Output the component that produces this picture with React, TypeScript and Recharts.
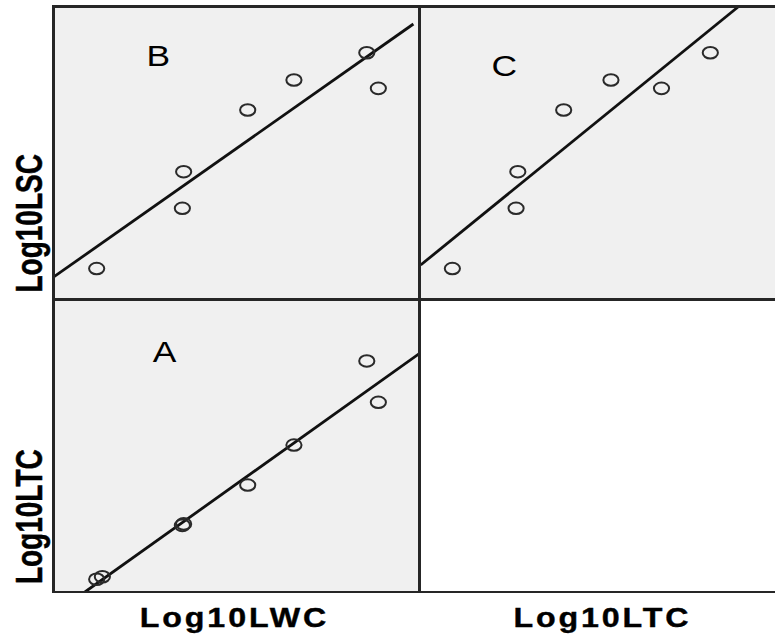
import React from 'react';
import { ScatterChart, Scatter, XAxis, YAxis, ReferenceLine } from 'recharts';

// ---- data (arbitrary log10 units) ----
const sampleIds = ['S1', 'S2', 'S3', 'S4', 'S5', 'S6', 'S7', 'S8'];
const log10LWC = [0.738, 0.769, 1.212, 1.205, 1.561, 1.813, 2.21, 2.273];
const log10LSC: (number | null)[] = [0.708, null, 1.369, 1.119, 1.79, 1.995, 2.181, 1.938];
const log10LTC = [1.087, 1.104, 1.465, 1.455, 1.73, 2.003, 2.577, 2.295];

// fitted (least-squares) line end points
const fitB = [{ x: 0.5, y: 0.647 }, { x: 2.464, y: 2.377 }];
const fitC = [{ x: 0.904, y: 0.732 }, { x: 2.737, y: 2.493 }];
const fitA = [{ x: 0.674, y: 1.0 }, { x: 2.5, y: 2.631 }];

const panelLetters = ['B', 'C', 'A'];
const rowLabels = ['Log10LSC', 'Log10LTC'];
const colLabels = ['Log10LWC', 'Log10LTC'];

const lwcDomain: [number, number] = [0.5, 2.5];
const lscDomain: [number, number] = [0.5, 2.5];
const ltcDomainX: [number, number] = [0.9, 3.02];
const ltcDomainY: [number, number] = [1.0, 3.0];

const dataB = sampleIds
  .map((id, i) => ({ id, x: log10LWC[i], y: log10LSC[i] }))
  .filter((d) => d.y !== null);
const dataC = sampleIds
  .map((id, i) => ({ id, x: log10LTC[i], y: log10LSC[i] }))
  .filter((d) => d.y !== null);
const dataA = sampleIds.map((id, i) => ({ id, x: log10LWC[i], y: log10LTC[i] }));

const PW = 367;
const PH = 293;

const Ring = (props: any) => {
  if (props.cx == null || props.cy == null) return <g />;
  return (
    <ellipse cx={props.cx} cy={props.cy} rx={7.6} ry={5.8} fill="none" stroke="#2a2a2a" strokeWidth={2} />
  );
};

function Panel(props: {
  data: any[];
  xDomain: [number, number];
  yDomain: [number, number];
  fit: { x: number; y: number }[];
  left: number;
  top: number;
}) {
  const { data, xDomain, yDomain, fit, left, top } = props;
  return (
    <div style={{ position: 'absolute', left, top, width: PW, height: PH, background: '#f0f0f0' }}>
      <ScatterChart width={PW} height={PH} margin={{ top: 0, right: 0, bottom: 0, left: 0 }}>
        <XAxis type="number" dataKey="x" domain={xDomain} hide allowDataOverflow />
        <YAxis type="number" dataKey="y" domain={yDomain} hide allowDataOverflow />
        <Scatter data={data} isAnimationActive={false} shape={Ring} />
        <ReferenceLine segment={fit} stroke="#111" strokeWidth={2.8} ifOverflow="visible" />
      </ScatterChart>
    </div>
  );
}

const lineColor = '#262626';

export default function App() {
  return (
    <div style={{ position: 'absolute', left: 0, top: 0, width: 775, height: 634, overflow: 'hidden', background: '#fff' }}>
      <Panel data={dataB} xDomain={lwcDomain} yDomain={lscDomain} fit={fitB} left={53} top={6} />
      <Panel data={dataC} xDomain={ltcDomainX} yDomain={lscDomain} fit={fitC} left={420} top={6} />
      <Panel data={dataA} xDomain={lwcDomain} yDomain={ltcDomainY} fit={fitA} left={53} top={299} />

      {/* frame lines */}
      <div style={{ position: 'absolute', left: 52, top: 5, width: 723, height: 2.5, background: lineColor }} />
      <div style={{ position: 'absolute', left: 52, top: 5, width: 3, height: 588, background: lineColor }} />
      <div style={{ position: 'absolute', left: 418, top: 5, width: 3, height: 588, background: lineColor }} />
      <div style={{ position: 'absolute', left: 52, top: 297.5, width: 723, height: 3, background: lineColor }} />
      <div style={{ position: 'absolute', left: 52, top: 590.5, width: 723, height: 2.5, background: lineColor }} />

      <svg width={775} height={634} style={{ position: 'absolute', left: 0, top: 0, pointerEvents: 'none' }}>
        <g fontFamily="'Liberation Sans', Arial, sans-serif" fill="#000">
          <text transform="translate(146.4,66) scale(1.18,1)" fontSize={30}>{panelLetters[0]}</text>
          <text transform="translate(491.5,75.5) scale(1.18,1)" fontSize={30}>{panelLetters[1]}</text>
          <text transform="translate(152.7,361.7) scale(1.18,1)" fontSize={30}>{panelLetters[2]}</text>

          <text transform="translate(41.7,223.3) scale(1.3,1) rotate(-90)" fontSize={28} fontWeight="bold" textAnchor="middle" stroke="#000" strokeWidth={0.4}>{rowLabels[0]}</text>
          <text transform="translate(41.7,516.7) scale(1.3,1) rotate(-90)" fontSize={28} fontWeight="bold" textAnchor="middle" stroke="#000" strokeWidth={0.4}>{rowLabels[1]}</text>

          <text transform="translate(234.4,626.7) scale(1.15,1)" fontSize={28} fontWeight="bold" textAnchor="middle" letterSpacing={2.5} stroke="#000" strokeWidth={0.4}>{colLabels[0]}</text>
          <text transform="translate(602.4,626.7) scale(1.15,1)" fontSize={28} fontWeight="bold" textAnchor="middle" letterSpacing={2.5} stroke="#000" strokeWidth={0.4}>{colLabels[1]}</text>
        </g>
      </svg>
    </div>
  );
}
